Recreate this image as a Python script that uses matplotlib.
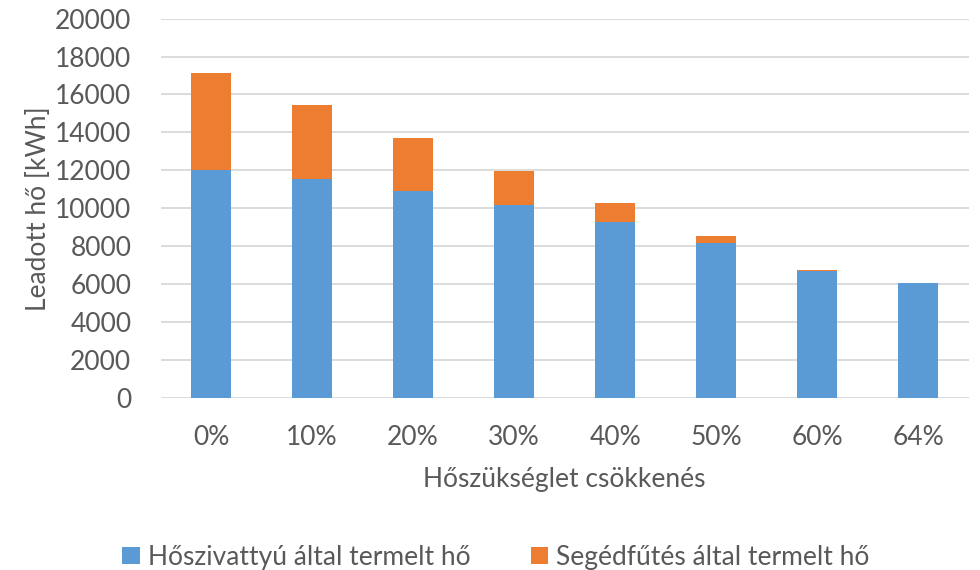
import matplotlib.pyplot as plt
import numpy as np

plt.rcParams['font.family'] = ['Lato', 'DejaVu Sans']

categories = ['0%', '10%', '20%', '30%', '40%', '50%', '60%', '64%']
hoszivattyu = [12020, 11540, 10910, 10170, 9260, 8160, 6710, 6080]
segedfutes = [5120, 3880, 2790, 1810, 1020, 390, 50, 0]

blue = '#5B9BD5'
orange = '#ED7D31'
text_color = '#595959'
fs = 19

fig = plt.figure(figsize=(9.8, 5.7), dpi=100)
ax = fig.add_axes([0.1638, 0.3012, 0.8247, 0.6663])

x = np.arange(len(categories))
b1 = ax.bar(x, hoszivattyu, width=0.4, color=blue, zorder=3,
            label='Hőszivattyú által termelt hő')
b2 = ax.bar(x, segedfutes, width=0.4, bottom=hoszivattyu, color=orange, zorder=3,
            label='Segédfűtés által termelt hő')

ax.set_xlim(-0.5, len(categories) - 0.5)
ax.set_ylim(0, 20000)
ax.set_yticks(np.arange(0, 20001, 2000))
ax.set_xticks(x)
ax.set_xticklabels(categories)
ax.grid(axis='y', color='#D9D9D9', linewidth=1.3, zorder=0)
ax.tick_params(axis='both', length=0, labelsize=fs, colors=text_color)
ax.tick_params(axis='x', pad=19)
ax.tick_params(axis='y', pad=21)
for s in ax.spines.values():
    s.set_visible(False)

ax.set_ylabel('Leadott hő [kWh]', fontsize=fs, color=text_color)
ax.yaxis.set_label_coords(-0.136, 0.5)
ax.set_xlabel('Hőszükséglet csökkenés', fontsize=fs, color=text_color)
ax.xaxis.set_label_coords(0.5, -0.18)

fig.legend(handles=[b1, b2], loc='center', bbox_to_anchor=(0.506, 0.022), ncol=2,
           frameon=False, fontsize=fs, labelcolor=text_color,
           handlelength=0.65, handleheight=0.65, handletextpad=0.3, columnspacing=2.3)

plt.savefig('out.png', dpi=100)
